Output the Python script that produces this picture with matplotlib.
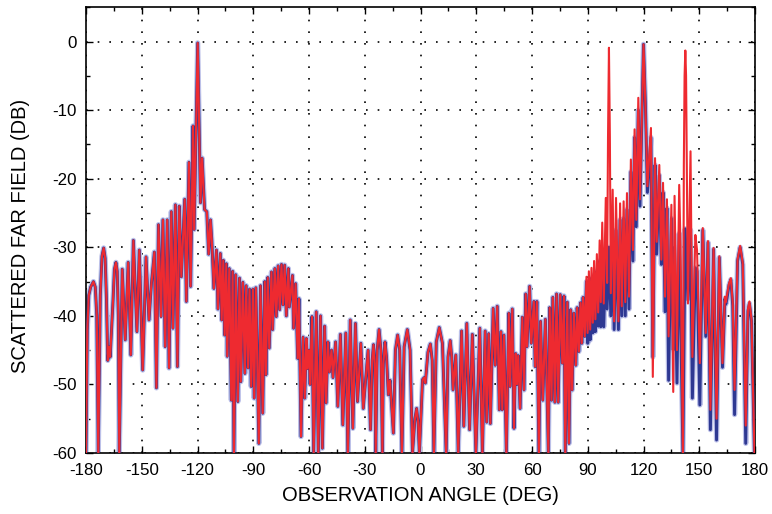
import numpy as np
import matplotlib
matplotlib.use('Agg')
import matplotlib.pyplot as plt
from matplotlib.ticker import MultipleLocator

plt.rcParams['font.family'] = ['Liberation Sans', 'DejaVu Sans']
plt.rcParams['axes.unicode_minus'] = False

# shared part of both curves (peaks, nulls, a few shoulders)
# -180 .. -60 deg
angle_left = [
    -180.0, -179.3, -178.5, -177.5, -176.0, -175.0, -174.2, -173.4, -172.3, -171.4,
    -170.5, -169.7, -169.0, -168.3, -167.5, -167.0, -165.5, -164.7, -163.9, -163.2,
    -162.6, -162.1, -160.5, -158.9, -157.3, -155.9, -154.5, -152.6, -151.3, -149.5,
    -147.7, -146.1, -144.8, -143.2, -142.1, -141.0, -139.6, -138.6, -137.4, -136.3,
    -135.3, -134.1, -133.2, -131.9, -130.8, -129.8, -128.7, -126.9, -126.0, -124.6,
    -123.7, -122.4, -121.8, -119.9, -118.4, -117.5, -116.2, -115.0, -114.0, -113.0,
    -112.3, -111.2, -109.8, -109.0, -107.7, -107.0, -106.1, -105.4, -104.5, -104.0,
    -102.9, -101.8, -101.1, -100.4, -99.4, -98.3, -97.4, -96.7, -95.6, -94.5,
    -93.8, -92.8, -92.0, -91.1, -90.2, -89.5, -88.6, -87.0, -86.1, -84.9,
    -83.8, -83.2, -82.2, -81.4, -80.2, -79.6, -78.4, -77.6, -76.6, -75.8,
    -74.8, -74.0, -73.1, -72.2, -71.1, -70.6, -68.9, -68.3, -67.2, -66.1,
    -65.4, -64.3, -63.2, -62.3, -61.4, -60.9,
]
db_left = [
    -60.0, -42.0, -37.0, -35.8, -35.0, -35.8, -40.0, -60.0, -37.0, -31.3,
    -30.1, -31.6, -37.5, -46.5, -44.5, -46.0, -38.0, -33.2, -32.2, -33.5,
    -40.0, -60.0, -33.2, -43.5, -32.2, -45.7, -29.0, -42.3, -30.4, -47.9,
    -31.4, -40.6, -35.3, -30.7, -50.5, -26.7, -40.1, -26.0, -44.5, -26.0,
    -47.6, -24.8, -41.8, -23.8, -47.4, -24.0, -34.3, -23.0, -37.9, -17.6,
    -35.7, -12.3, -27.4, -0.2, -23.5, -17.0, -24.5, -24.8, -31.0, -26.0,
    -29.0, -36.0, -30.4, -39.0, -30.9, -40.6, -31.9, -42.8, -32.4, -45.9,
    -33.1, -52.3, -33.5, -60.0, -34.0, -52.5, -34.5, -49.6, -35.1, -48.4,
    -35.6, -47.6, -36.1, -50.3, -36.1, -52.0, -35.9, -58.6, -35.6, -54.2,
    -35.0, -48.6, -34.4, -44.7, -33.6, -42.0, -33.1, -40.1, -32.7, -39.1,
    -32.5, -38.4, -32.6, -40.0, -33.1, -38.7, -34.1, -41.8, -35.3, -46.2,
    -37.5, -57.6, -43.1, -52.0, -43.3, -47.7,
]
# -60 .. 30 deg
angle_mid = [
    -60.0, -59.4, -58.4, -57.5, -56.1, -55.0, -53.8, -52.8, -51.6, -50.8,
    -49.8, -49.0, -47.9, -47.1, -45.7, -44.5, -43.1, -41.8, -40.2, -39.1,
    -37.8, -36.4, -35.0, -33.9, -32.1, -30.8, -28.2, -26.9, -26.0, -25.3,
    -24.6, -24.1, -23.3, -22.3, -21.3, -20.5, -20.0, -19.1, -18.3, -17.3,
    -16.4, -14.6, -13.5, -12.3, -11.2, -10.0, -8.8, -7.1, -5.6, -4.3,
    -3.0, -2.1, -1.3, -0.6, 1.1, 2.0, 2.6, 4.0, 5.3, 6.3,
    7.2, 8.5, 10.1, 11.8, 13.8, 14.8, 16.0, 16.8, 17.5, 19.0,
    20.3, 22.1, 23.3, 24.9, 26.4, 27.9, 29.8,
]
db_mid = [
    -45.0, -50.0, -40.1, -60.0, -39.4, -60.0, -40.0, -59.3, -41.5, -52.7,
    -43.8, -48.2, -45.0, -49.0, -43.8, -53.2, -42.7, -55.9, -42.5, -60.0,
    -40.6, -56.4, -41.1, -52.5, -44.0, -53.5, -45.0, -56.6, -46.5, -44.2,
    -47.0, -60.0, -45.0, -42.0, -45.0, -60.0, -47.0, -43.8, -46.0, -51.5,
    -49.4, -57.1, -45.0, -42.8, -45.0, -60.0, -44.5, -42.0, -45.0, -60.0,
    -55.0, -53.5, -55.5, -60.0, -49.3, -49.0, -49.8, -45.3, -44.1, -46.5,
    -60.0, -43.8, -41.7, -44.0, -60.0, -46.0, -43.6, -46.0, -50.8, -45.7,
    -60.0, -42.2, -56.1, -41.1, -56.6, -42.7, -60.0,
]
# 30 .. 88 deg
angle_right = [
    31.9, 33.3, 34.8, 35.6, 36.7, 37.6, 39.1, 40.2, 41.3, 42.4,
    43.3, 44.0, 44.9, 46.2, 47.5, 48.2, 49.4, 50.3, 51.2, 51.9,
    52.6, 53.6, 54.8, 55.7, 56.6, 57.3, 58.7, 59.6, 61.0, 61.7,
    62.6, 63.7, 64.6, 65.8, 67.2, 68.8, 69.5, 70.5, 71.2, 72.3,
    73.2, 74.1, 75.2, 76.3, 77.2, 77.9, 79.0, 79.9, 80.8, 81.6,
    82.5, 83.6, 84.3, 85.2, 86.1, 86.8, 87.5, 88.4,
]
db_right = [
    -41.8, -60.0, -42.2, -55.5, -42.6, -55.7, -38.9, -47.2, -38.6, -53.7,
    -42.3, -53.7, -42.8, -60.0, -39.6, -50.3, -39.0, -56.4, -45.5, -50.0,
    -45.8, -53.5, -40.2, -50.8, -36.8, -44.5, -35.7, -44.0, -37.9, -47.4,
    -37.9, -60.0, -40.8, -52.3, -40.5, -60.0, -38.8, -52.3, -37.3, -52.6,
    -36.8, -52.6, -36.9, -46.9, -37.1, -60.0, -38.0, -58.6, -39.1, -50.8,
    -39.6, -47.2, -38.8, -45.2, -38.1, -44.0, -37.3, -43.0,
]

# 89 .. 180 deg, where the two curves split
angle_red_hi = [
    89.3, 89.9, 90.6, 91.3, 92.0, 92.7, 93.4, 94.1, 94.9, 95.6,
    96.4, 97.0, 97.8, 98.6, 99.7, 100.4, 100.9, 101.4, 101.9, 102.4,
    103.4, 104.2, 105.2, 106.5, 107.4, 108.3, 109.3, 110.2, 111.1, 112.2,
    113.2, 114.3, 115.2, 116.1, 117.2, 118.1, 120.0, 121.0, 122.1, 124.0,
    125.0, 126.2, 127.1, 128.5, 129.6, 130.5, 131.6, 132.6, 133.5, 135.0,
    136.0, 136.7, 138.0, 139.2, 139.9, 141.2, 141.7, 142.1, 142.5, 142.9,
    143.3, 143.9, 145.3, 146.3, 147.9, 148.8, 150.3, 151.9, 153.5, 154.7,
    156.0, 157.7, 159.3, 160.8, 162.5, 163.8, 164.3, 164.9, 166.0, 167.0,
    168.0, 169.0, 170.6, 172.0, 173.4, 175.0, 176.2, 177.0, 178.1, 179.7,
    180.0,
]
db_red_hi = [
    -34.3, -42.5, -33.5, -42.0, -33.0, -41.0, -32.0, -40.5, -31.0, -39.5,
    -29.0, -38.0, -26.4, -38.2, -22.8, -35.2, -14.0, -0.9, -14.0, -36.7,
    -21.6, -40.8, -22.8, -40.8, -23.6, -38.6, -23.3, -38.0, -22.1, -37.2,
    -17.2, -30.4, -12.8, -26.0, -8.2, -23.0, -0.4, -9.0, -21.1, -12.6,
    -48.9, -17.0, -29.2, -18.0, -31.8, -20.6, -37.2, -23.0, -43.0, -23.8,
    -51.1, -22.5, -45.0, -20.9, -29.7, -60.0, -18.0, -5.0, -1.3, -5.0,
    -18.0, -38.2, -16.0, -46.0, -28.2, -30.4, -46.9, -27.2, -42.5, -29.1,
    -53.7, -30.1, -55.0, -31.3, -46.9, -37.2, -38.0, -37.0, -35.3, -34.5,
    -38.0, -50.8, -31.8, -29.8, -32.3, -56.0, -39.0, -37.9, -40.5, -60.0,
    -60.0,
]
angle_blue_hi = [
    89.3, 90.0, 90.6, 91.3, 92.0, 92.7, 93.4, 94.1, 94.9, 95.6,
    96.4, 97.0, 97.8, 98.6, 99.7, 100.4, 101.4, 102.4, 103.4, 104.2,
    105.2, 106.5, 107.4, 108.3, 109.3, 110.2, 111.1, 112.2, 113.2, 114.3,
    115.2, 116.1, 117.2, 118.1, 120.0, 121.0, 122.1, 124.0, 125.0, 126.2,
    127.1, 128.5, 129.6, 130.5, 131.6, 132.6, 133.5, 135.0, 136.0, 136.7,
    138.0, 139.2, 141.2, 142.4, 143.9, 145.3, 146.3, 147.9, 148.8, 150.3,
    151.9, 153.5, 154.7, 156.0, 157.7, 159.3, 160.8, 162.5, 163.8, 164.3,
    164.9, 166.0, 167.0, 168.0, 169.0, 170.6, 172.0, 173.4, 175.0, 176.2,
    177.0, 178.1, 179.7, 180.0,
]
db_blue_hi = [
    -35.0, -44.0, -35.0, -43.5, -34.5, -42.5, -34.0, -42.3, -33.5, -41.5,
    -32.0, -41.6, -31.0, -41.6, -30.4, -39.0, -30.0, -40.0, -29.0, -42.0,
    -27.5, -42.0, -26.0, -40.0, -25.8, -40.0, -24.5, -39.0, -19.0, -32.0,
    -14.0, -27.0, -10.0, -24.0, -0.4, -9.0, -22.0, -14.0, -46.0, -18.0,
    -31.0, -19.5, -32.5, -22.0, -39.4, -24.3, -49.4, -25.8, -45.0, -30.0,
    -49.8, -28.0, -60.0, -27.3, -37.7, -27.5, -52.0, -33.0, -33.5, -53.0,
    -27.5, -43.0, -29.3, -56.6, -30.3, -58.1, -31.5, -47.5, -37.5, -38.3,
    -37.5, -35.5, -34.7, -38.5, -54.4, -32.0, -30.0, -32.5, -58.6, -39.3,
    -38.2, -40.8, -60.0, -60.0,
]

angle_common = angle_left + angle_mid + angle_right
db_common = db_left + db_mid + db_right
blue_x = np.array(angle_common + angle_blue_hi)
blue_y = np.array(db_common + db_blue_hi)
red_x = np.array(angle_common + angle_red_hi)
red_y = np.array(db_common + db_red_hi)

fig = plt.figure(figsize=(7.72, 5.14), dpi=100)
ax = fig.add_axes([0.1114, 0.1187, 0.8666, 0.8671])

ax.plot(blue_x, blue_y, color='#bcc0e8', lw=3.8, solid_joinstyle='round', zorder=2)
ax.plot(blue_x, blue_y, color='#2e3892', lw=2.1, solid_joinstyle='round', zorder=3)
ax.plot(red_x, red_y, color='#ee2a30', lw=1.5, solid_joinstyle='round', zorder=4)

ax.set_xlim(-180, 180)
ax.set_ylim(-60, 5)
ax.xaxis.set_major_locator(MultipleLocator(30))
ax.xaxis.set_minor_locator(MultipleLocator(15))
ax.yaxis.set_major_locator(MultipleLocator(10))
ax.yaxis.set_minor_locator(MultipleLocator(5))
ax.set_yticks(range(-60, 1, 10))

ax.grid(True, which='major', color='black', linestyle=(0, (1, 6)), linewidth=1.2)
ax.tick_params(which='both', direction='in', top=True, right=True,
               labelsize=12.2, pad=7, color='black')
ax.tick_params(which='major', length=5, width=1)
ax.tick_params(which='minor', length=3, width=1)
for s in ax.spines.values():
    s.set_linewidth(1.2)

ax.set_xlabel('OBSERVATION ANGLE (DEG)', fontsize=14.5)
ax.set_ylabel('SCATTERED FAR FIELD (DB)', fontsize=14.5)
ax.xaxis.set_label_coords(0.5, -0.074)
ax.yaxis.set_label_coords(-0.083, 0.487)

plt.savefig('out.png', dpi=100)
